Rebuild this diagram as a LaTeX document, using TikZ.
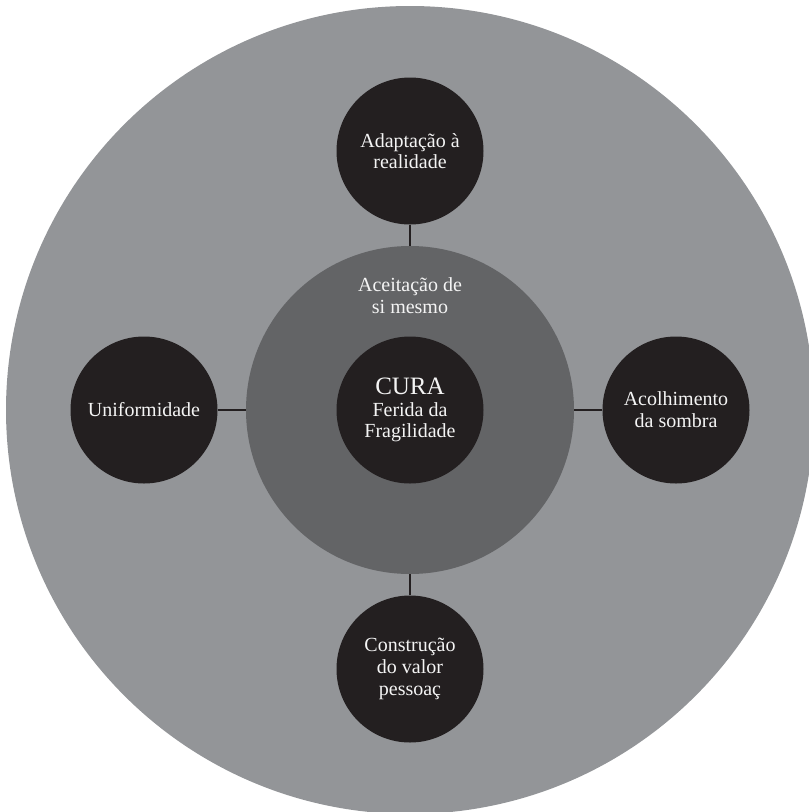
\documentclass[tikz,border=0pt]{standalone}
\usepackage{fontspec}
\setmainfont{Liberation Serif}
\definecolor{outergray}{HTML}{939598}
\definecolor{midgray}{HTML}{636466}
\definecolor{darkc}{HTML}{231F20}
\definecolor{txt}{HTML}{F4F4F4}
\begin{document}
\begin{tikzpicture}[x=1pt,y=-1pt,
  ball/.style={circle,fill=darkc,minimum size=147pt,inner sep=0pt,text=txt,align=center,font=\fontsize{20}{21.7}\selectfont},
  link/.style={draw=darkc,line width=2.5pt}]
\useasboundingbox (0,0) rectangle (809,812);
\begin{scope}
\clip (0,0) rectangle (809,812);
\fill[outergray] (410,410) circle (404);
\end{scope}
\node[circle,fill=midgray,minimum size=328pt,inner sep=0pt] (mid) at (410,410) {};
\node[text=txt,align=center,font=\fontsize{20}{21.7}\selectfont] (acc) at (410,296) {Aceitação de\\si mesmo};
\node[ball] (core) at (410,410) {{\fontsize{25}{27}\selectfont CURA}\\Ferida da\\Fragilidade};
\node[ball] (top) at (410,151) {Adaptação à\\realidade};
\node[ball] (bot) at (410,669) {Construção\\do valor\\pessoaç};
\node[ball] (lft) at (144,410) {Uniformidade};
\node[ball] (rgt) at (676,410) {Acolhimento\\da sombra};
\draw[link] (top) -- (mid);
\draw[link] (bot) -- (mid);
\draw[link] (lft) -- (mid);
\draw[link] (rgt) -- (mid);
\end{tikzpicture}
\end{document}
